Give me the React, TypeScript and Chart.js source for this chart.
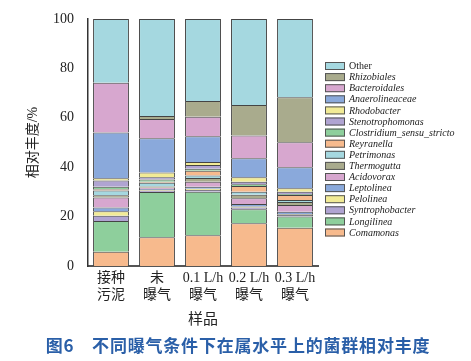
import React, { useEffect, useRef } from "react";
import { Chart, registerables } from "chart.js";

Chart.register(...registerables);

const categories: string[][] = [
  ["接种", "污泥"],
  ["未", "曝气"],
  ["0.1 L/h", "曝气"],
  ["0.2 L/h", "曝气"],
  ["0.3 L/h", "曝气"],
];

const yTicks = [0, 20, 40, 60, 80, 100];

// series, bottom to top
const Comamonas = [5.8, 11.6, 12.4, 17.3, 15.5];
const Longilinea = [12.4, 18.4, 17.7, 5.7, 4.5];
const Syntrophobacter = [2.1, 0.5, 0.7, 0.7, 0.7];
const Pelolinea = [1.9, 0.3, 0.5, 0.4, 0.4];
const Leptolinea = [1.5, 0.4, 0.8, 1.0, 0.9];
const Acidovorax = [4.0, 0.5, 2.0, 2.3, 2.7];
const Thermogutta = [0.9, 0.5, 1.5, 1.4, 1.2];
const Petrimonas = [2.0, 1.5, 1.0, 1.3, 0.8];
const Reyranella = [0.5, 0.4, 2.0, 2.3, 2.0];
const Clostridium = [1.0, 0.9, 0.8, 0.7, 0.4];
const Stenotrophomonas = [2.5, 0.9, 1.5, 1.0, 1.0];
const Rhodobacter = [0.9, 2.0, 1.2, 1.8, 1.4];
const Anaerolineaceae = [18.5, 13.8, 10.4, 7.7, 8.5];
const Bacteroidales = [20.2, 7.8, 7.9, 9.2, 10.1];
const Rhizobiales = [0, 1.2, 6.4, 12.4, 18.2];
const Other = [25.8, 39.3, 33.2, 34.8, 31.7];

const seriesNames = [
  "Comamonas", "Longilinea", "Syntrophobacter", "Pelolinea", "Leptolinea",
  "Acidovorax", "Thermogutta", "Petrimonas", "Reyranella", "Clostridium_sensu_stricto",
  "Stenotrophomonas", "Rhodobacter", "Anaerolineaceae", "Bacteroidales", "Rhizobiales", "Other",
];
const seriesValues = [
  Comamonas, Longilinea, Syntrophobacter, Pelolinea, Leptolinea,
  Acidovorax, Thermogutta, Petrimonas, Reyranella, Clostridium,
  Stenotrophomonas, Rhodobacter, Anaerolineaceae, Bacteroidales, Rhizobiales, Other,
];
const palette = ["#f7ba8d", "#8ecf9c", "#b0a4d2", "#f2eb96", "#8aa9db", "#d7a7cf", "#a9ab8d", "#a5d8e0"];

const SERIF = '"Liberation Serif", "Noto Sans CJK SC", serif';

const legendPlugin = {
  id: "customLegend",
  afterDraw(chart: any) {
    const ctx = chart.ctx;
    const ds = chart.data.datasets;
    const x0 = 325;
    const y0 = 62;
    const pitch = 11.1;
    ctx.save();
    for (let k = 0; k < ds.length; k++) {
      const d = ds[ds.length - 1 - k];
      const y = y0 + k * pitch;
      ctx.fillStyle = d.backgroundColor;
      ctx.fillRect(x0, y, 20, 8);
      ctx.strokeStyle = "#555";
      ctx.lineWidth = 1;
      ctx.strokeRect(x0 + 0.5, y + 0.5, 19, 7);
      ctx.fillStyle = "#222";
      ctx.font = (d.label === "Other" ? "" : "italic ") + '10px "Liberation Serif", serif';
      ctx.textBaseline = "middle";
      ctx.textAlign = "left";
      ctx.fillText(d.label, x0 + 24, y + 4.5);
    }
    ctx.restore();
  },
};

export default function App() {
  const ref = useRef<HTMLCanvasElement>(null);
  useEffect(() => {
    document.body.style.margin = "0";
    const chart = new Chart(ref.current as HTMLCanvasElement, {
      type: "bar",
      data: {
        labels: categories,
        datasets: seriesNames.map((name, i) => ({
          label: name,
          data: seriesValues[i],
          backgroundColor: palette[i % 8],
          borderColor: "#444",
          borderWidth: 1,
          barPercentage: 0.78,
          categoryPercentage: 1,
        })),
      },
      options: {
        animation: false,
        responsive: false,
        layout: { padding: { left: 0, right: 153, top: 19, bottom: 0 } },
        plugins: { legend: { display: false }, tooltip: { enabled: false } },
        scales: {
          x: {
            stacked: true,
            grid: { display: false },
            border: { display: true, color: "#555", width: 2 },
            ticks: {
              color: "#222",
              padding: -4,
              maxRotation: 0,
              autoSkip: false,
              font: { family: SERIF, size: 14, lineHeight: 1.2 },
            },
            title: {
              display: true,
              text: "样品",
              color: "#222",
              font: { family: SERIF, size: 15, lineHeight: 1.2 },
              padding: { top: 0, bottom: 32 },
            },
            afterFit: (s: any) => {
              s.height = 95;
            },
          },
          y: {
            stacked: true,
            min: 0,
            max: 100,
            grid: { display: false },
            border: { display: true, color: "#333", width: 1.5 },
            afterBuildTicks: (s: any) => {
              s.ticks = yTicks.map((v) => ({ value: v }));
            },
            ticks: {
              color: "#222",
              padding: 6,
              font: { family: SERIF, size: 14 },
            },
            title: {
              display: true,
              text: "相对丰度/%",
              color: "#222",
              font: { family: SERIF, size: 14, lineHeight: 1.2 },
              padding: { top: 25, bottom: 0 },
            },
            afterFit: (s: any) => {
              s.width = 88;
            },
          },
        },
      },
      plugins: [legendPlugin],
    });
    return () => chart.destroy();
  }, []);
  return (
    <div style={{ position: "relative", width: 471, height: 361, background: "#fff" }}>
      <canvas ref={ref} width={471} height={361} style={{ position: "absolute", left: 0, top: 0 }} />
      <div
        style={{
          position: "absolute",
          left: 0,
          width: 476,
          top: 335,
          textAlign: "center",
          color: "#2a5fa8",
          fontFamily: '"Noto Sans CJK SC", sans-serif',
          fontWeight: "bold",
          fontSize: 17,
          letterSpacing: 0.8,
          lineHeight: "20px",
          whiteSpace: "pre",
        }}
      >
        {"图6\u3000不同曝气条件下在属水平上的菌群相对丰度"}
      </div>
    </div>
  );
}
